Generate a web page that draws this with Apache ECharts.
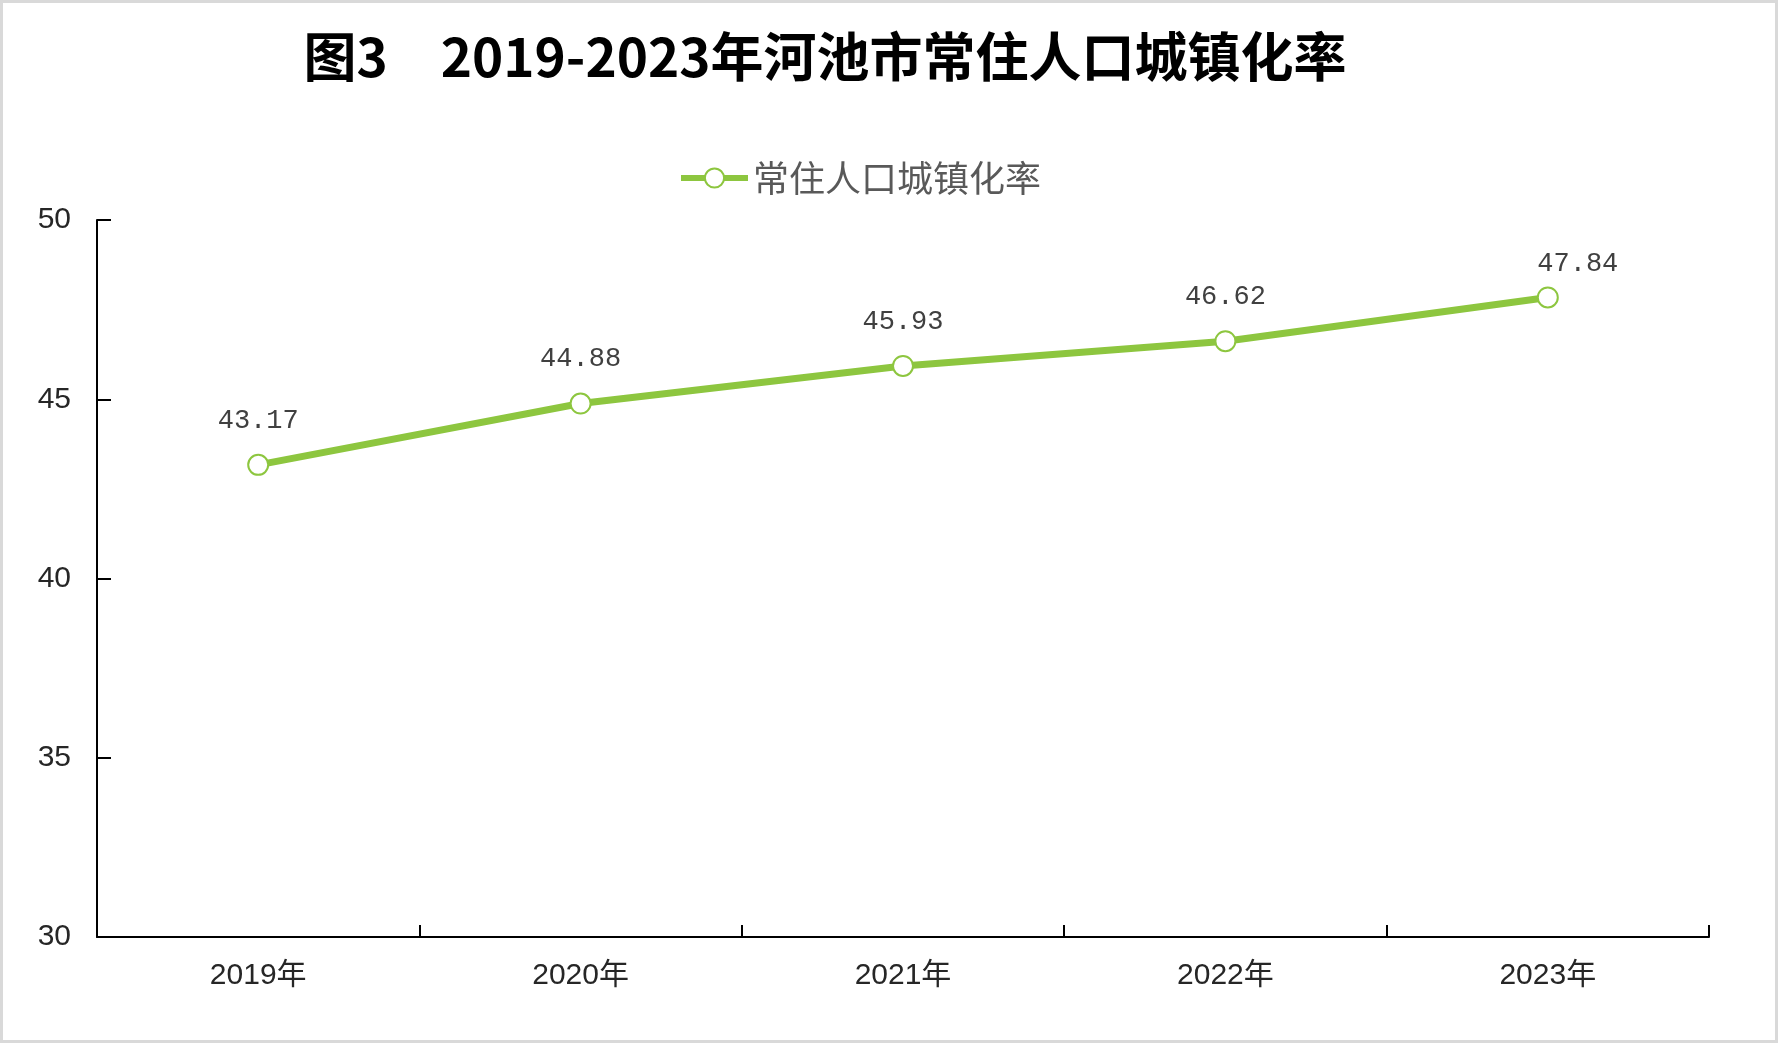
<!DOCTYPE html>
<html>
<head>
<meta charset="utf-8">
<script src="https://cdn.jsdelivr.net/npm/echarts@6/dist/echarts.min.js"></script>
<style>
  html, body { margin: 0; padding: 0; background: #fff; }
  #main { width: 1778px; height: 1043px; }
</style>
</head>
<body>
<div id="main"></div>
<script>
// 数据
var years = ['2019年', '2020年', '2021年', '2022年', '2023年'];
var rates = [43.17, 44.88, 45.93, 46.62, 47.84];
var seriesName = '常住人口城镇化率';
var titleText = '图3\u30002019-2023年河池市常住人口城镇化率';

var green = '#8dc63f';
var myChart = echarts.init(document.getElementById('main'));

// 最后一个标签偏右一点
var lineData = rates.map(function (v, i) {
    if (i === rates.length - 1) {
        return { value: v, label: { offset: [30, 11] } };
    }
    return v;
});

var option = {
    backgroundColor: '#fff',
    animation: false,
    graphic: [
        {
            type: 'rect',
            silent: true,
            shape: { x: 1.5, y: 1.5, width: 1775, height: 1040 },
            style: { fill: 'none', stroke: '#d9d9d9', lineWidth: 3 }
        },
        {
            type: 'text',
            x: 825,
            y: 57,
            style: {
                text: titleText,
                textAlign: 'center',
                textVerticalAlign: 'middle',
                fill: '#000',
                font: 'bold 53px "Noto Sans CJK SC", sans-serif'
            }
        }
    ],
    //图例
    legend: {
        left: 673,
        top: 155,
        itemWidth: 67,
        itemHeight: 24,
        itemGap: 10,
        lineStyle: { width: 6 },
        textStyle: {
            fontSize: 36,
            color: '#595959',
            fontFamily: '"Noto Sans CJK SC", sans-serif'
        },
        data: [seriesName]
    },
    grid: {
        left: 97,
        right: 69,
        top: 220,
        bottom: 106
    },
    xAxis: {
        type: 'category',
        data: years,
        boundaryGap: true,
        axisLine: { show: true, lineStyle: { color: '#000', width: 2 } },
        axisTick: { show: true, inside: true, length: 12, interval: 0, lineStyle: { color: '#000', width: 2 } },
        axisLabel: {
            margin: 24,
            fontSize: 30,
            color: '#262626',
            fontFamily: '"Liberation Sans", "Noto Sans CJK SC", sans-serif'
        }
    },
    yAxis: {
        type: 'value',
        min: 30,
        max: 50,
        interval: 5,
        axisLine: { show: true, lineStyle: { color: '#000', width: 2 } },
        axisTick: { show: true, inside: true, length: 14, lineStyle: { color: '#000', width: 2 } },
        splitLine: { show: false },
        axisLabel: {
            margin: 26,
            fontSize: 30,
            color: '#262626',
            fontFamily: '"Liberation Sans", sans-serif'
        }
    },
    series: [
        {
            name: seriesName,
            type: 'line',
            data: lineData,
            symbol: 'circle',
            symbolSize: 20,
            lineStyle: { color: green, width: 7 },
            itemStyle: { color: '#fff', borderColor: green, borderWidth: 2 },
            label: {
                show: true,
                position: 'top',
                distance: 20,
                fontSize: 27,
                color: '#404040',
                fontFamily: '"Liberation Mono", monospace'
            }
        }
    ]
};

myChart.setOption(option);
</script>
</body>
</html>
